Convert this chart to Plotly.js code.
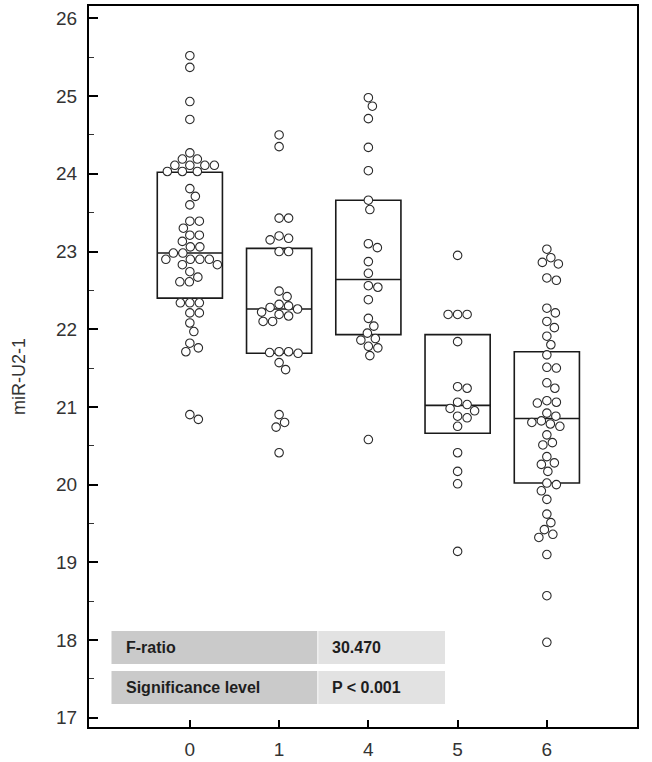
<!DOCTYPE html>
<html>
<head>
<meta charset="utf-8">
<script src="https://cdn.plot.ly/plotly-3.0.1.min.js"></script>
<style>html,body{margin:0;padding:0;background:#fff;}#chart{width:652px;height:762px;}</style>
</head>
<body>
<div id="chart"></div>
<script>
// ---- data ----
const categories = ['0', '1', '4', '5', '6'];

const group0 = [25.52, 25.37, 24.93, 24.70, 24.27, 24.19, 24.19, 24.11, 24.11, 24.11, 24.11,
  24.03, 24.03, 24.03, 23.81, 23.71, 23.60, 23.39, 23.39, 23.30, 23.21, 23.21, 23.13, 23.06,
  23.06, 22.98, 22.98, 22.90, 22.90, 22.90, 22.90, 22.83, 22.83, 22.74, 22.67, 22.61, 22.61,
  22.34, 22.34, 22.34, 22.21, 22.21, 22.08, 21.97, 21.82, 21.76, 21.71, 20.90, 20.84];
const group1 = [24.50, 24.35, 23.43, 23.43, 23.20, 23.17, 23.15, 23.00, 23.00, 22.49, 22.42,
  22.32, 22.30, 22.28, 22.26, 22.22, 22.19, 22.17, 22.10, 22.10, 21.71, 21.71, 21.70, 21.69,
  21.57, 21.48, 20.90, 20.80, 20.74, 20.41];
const group4 = [24.98, 24.87, 24.71, 24.34, 24.04, 23.66, 23.54, 23.10, 23.05, 22.87, 22.72,
  22.56, 22.54, 22.38, 22.14, 22.04, 21.95, 21.88, 21.86, 21.78, 21.76, 21.66, 20.58];
const group5 = [22.95, 22.19, 22.19, 22.19, 21.84, 21.26, 21.24, 21.06, 21.03, 20.98, 20.95,
  20.88, 20.86, 20.75, 20.41, 20.17, 20.01, 19.14];
const group6 = [23.03, 22.92, 22.86, 22.84, 22.66, 22.63, 22.27, 22.21, 22.10, 22.02, 21.91,
  21.80, 21.67, 21.51, 21.50, 21.31, 21.24, 21.08, 21.06, 21.05, 20.92, 20.88, 20.82, 20.80,
  20.78, 20.75, 20.64, 20.54, 20.51, 20.36, 20.28, 20.26, 20.17, 20.02, 20.00, 19.92, 19.81,
  19.62, 19.51, 19.42, 19.36, 19.32, 19.10, 18.57, 17.97];

const boxQ1 = [22.40, 21.69, 21.93, 20.66, 20.02];
const boxMedian = [22.98, 22.26, 22.64, 21.02, 20.85];
const boxQ3 = [24.02, 23.04, 23.66, 21.93, 21.71];

const statLabels = ['F-ratio', 'Significance level'];
const statValues = ['30.470', 'P < 0.001'];

const yTitle = 'miR-U2-1';

// ---- layout geometry ----
const W = 652, H = 762;
const M = {l: 89, r: 15, t: 6, b: 35};
const xRange = [-1.13, 5.01];
const yRange = [16.88, 26.16];
const plotW = W - M.l - M.r, plotH = H - M.t - M.b;
const pxX = plotW / (xRange[1] - xRange[0]);
const pxY = plotH / (yRange[1] - yRange[0]);

// deterministic beeswarm layout (pixel space) from the values
function swarm(vals, centre) {
  const d = 9.4;
  const idx = vals.map((v, i) => i).sort((a, b) => vals[b] - vals[a]);
  const placed = [];
  const xs = new Array(vals.length);
  idx.forEach(i => {
    const yp = vals[i] * pxY;
    let off = 0;
    for (let s = 0; s < 400; s++) {
      const cands = s === 0 ? [0] : [s * 0.5, -s * 0.5];
      let found = null;
      for (const c of cands) {
        if (placed.every(p => Math.hypot(p[0] - c, p[1] - yp) >= d)) { found = c; break; }
      }
      if (found !== null) { off = found; break; }
    }
    placed.push([off, yp]);
    xs[i] = centre + off / pxX;
  });
  return xs;
}

const groups = [group0, group1, group4, group5, group6];
const traces = [];

traces.push({
  type: 'box',
  x: [0, 1, 2, 3, 4],
  q1: boxQ1, median: boxMedian, q3: boxQ3,
  lowerfence: boxQ1, upperfence: boxQ3,
  width: 0.73,
  whiskerwidth: 0,
  boxpoints: false,
  fillcolor: 'rgba(0,0,0,0)',
  line: {color: '#1a1a1a', width: 1.6},
  hoverinfo: 'skip',
  showlegend: false
});

groups.forEach((g, k) => {
  traces.push({
    type: 'scatter',
    mode: 'markers',
    x: swarm(g, k),
    y: g,
    marker: {size: 8.5, color: '#ffffff', line: {color: '#2a2a2a', width: 1.1}},
    showlegend: false,
    hoverinfo: 'y'
  });
});

// table cells (pixel geometry -> paper coords)
const px2paperX = p => (p - M.l) / plotW;
const px2paperY = p => (H - M.b - p) / plotH;
const rows = [[631, 664], [671, 704]];
const col1 = [111.5, 317.3], col2 = [318.3, 445];
const shapes = [];
const annotations = [];
rows.forEach((r, i) => {
  shapes.push({type: 'rect', xref: 'paper', yref: 'paper', layer: 'below',
    x0: px2paperX(col1[0]), x1: px2paperX(col1[1]), y0: px2paperY(r[1]), y1: px2paperY(r[0]),
    fillcolor: '#cacaca', line: {width: 0}});
  shapes.push({type: 'rect', xref: 'paper', yref: 'paper', layer: 'below',
    x0: px2paperX(col2[0]), x1: px2paperX(col2[1]), y0: px2paperY(r[1]), y1: px2paperY(r[0]),
    fillcolor: '#e2e2e2', line: {width: 0}});
  annotations.push({xref: 'paper', yref: 'paper', x: px2paperX(124), y: px2paperY((r[0] + r[1]) / 2),
    xanchor: 'left', yanchor: 'middle', showarrow: false, text: '<b>' + statLabels[i] + '</b>',
    font: {family: 'Liberation Sans, Arial, sans-serif', size: 16, color: '#1e1e1e'}});
  annotations.push({xref: 'paper', yref: 'paper', x: px2paperX(330), y: px2paperY((r[0] + r[1]) / 2),
    xanchor: 'left', yanchor: 'middle', showarrow: false, text: '<b>' + statValues[i] + '</b>',
    font: {family: 'Liberation Sans, Arial, sans-serif', size: 16, color: '#1e1e1e'}});
});

// y-axis title placed as rotated text
annotations.push({xref: 'paper', yref: 'paper', x: px2paperX(19), y: px2paperY(377),
  xanchor: 'center', yanchor: 'middle', showarrow: false, textangle: -90, text: yTitle,
  font: {family: 'Liberation Sans, Arial, sans-serif', size: 18, color: '#333'}});

const layout = {
  width: W, height: H,
  margin: M,
  paper_bgcolor: '#ffffff', plot_bgcolor: '#ffffff',
  font: {family: 'Liberation Sans, Arial, sans-serif', color: '#333333'},
  showlegend: false,
  xaxis: {
    range: xRange, tickmode: 'array', tickvals: [0, 1, 2, 3, 4], ticktext: categories,
    showgrid: false, zeroline: false, showline: true, mirror: true, linecolor: '#000', linewidth: 2,
    ticks: 'inside', ticklen: 7, tickwidth: 2, tickcolor: '#000',
    tickfont: {size: 19, color: '#333'}, ticklabelstandoff: 4
  },
  yaxis: {
    range: yRange, tickmode: 'linear', tick0: 17, dtick: 1,
    showgrid: false, zeroline: false, showline: true, mirror: true, linecolor: '#000', linewidth: 2,
    ticks: 'inside', ticklen: 9, tickwidth: 2, tickcolor: '#000',
    minor: {ticks: 'inside', ticklen: 5, tickwidth: 1, dtick: 0.5, tickcolor: '#333', showgrid: false},
    tickfont: {size: 19, color: '#333'}, ticklabelstandoff: 6
  },
  shapes: shapes,
  annotations: annotations
};

Plotly.newPlot('chart', traces, layout, {displayModeBar: false, staticPlot: true});
</script>
</body>
</html>
